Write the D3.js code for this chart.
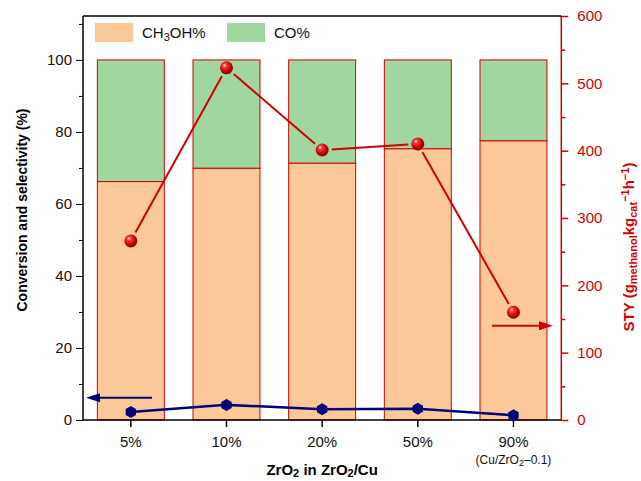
<!DOCTYPE html>
<html>
<head>
<meta charset="utf-8">
<script src="https://cdn.jsdelivr.net/npm/d3@7"></script>
<style>
  body { margin: 0; background: #fff; }
  text { font-family: "Liberation Sans", Arial, sans-serif; }
</style>
</head>
<body>
<div id="chart"></div>
<script>
// ---------------- DATA ----------------
const categories = ["5%", "10%", "20%", "50%", "90%"];
const methanolSel = [66.2, 69.9, 71.3, 75.3, 77.5];   // CH3OH% (left axis)
const totalSel = [100, 100, 100, 100, 100];           // CH3OH% + CO%
const conversion = [2.2, 4.2, 3.0, 3.1, 1.3];         // conversion % (left axis)
const sty = [266, 523, 401, 410, 160];                // STY (right axis)
const leftTicks = [0, 20, 40, 60, 80, 100];
const rightTicks = [0, 100, 200, 300, 400, 500, 600];

// ---------------- SVG ----------------
const W = 641, H = 481;
const margin = { top: 16, right: 80, bottom: 61, left: 83 };
const x0 = margin.left, x1 = W - margin.right + 0.3;
const yTop = margin.top, yBot = H - margin.bottom;

const svg = d3.select("#chart").append("svg")
  .attr("width", W).attr("height", H);

const defs = svg.append("defs");
const grad = defs.append("radialGradient").attr("id", "ball")
  .attr("cx", "40%").attr("cy", "38%").attr("r", "60%")
  .attr("fx", "35%").attr("fy", "30%");
grad.append("stop").attr("offset", "0%").attr("stop-color", "#ffe6e6");
grad.append("stop").attr("offset", "25%").attr("stop-color", "#f04040");
grad.append("stop").attr("offset", "70%").attr("stop-color", "#cc0000");
grad.append("stop").attr("offset", "100%").attr("stop-color", "#8a0000");

// ---------------- SCALES ----------------
const x = d3.scaleBand().domain(categories).range([x0, x1])
  .paddingInner(0.3).paddingOuter(0.15);
const yL = d3.scaleLinear().domain([0, 112.2]).range([yBot, yTop]);
const yR = d3.scaleLinear().domain([0, 600]).range([yBot, yTop]);

// ---------------- BARS ----------------
const red = "#d40000";
const bars = svg.append("g");
categories.forEach(function(c, i) {
  bars.append("rect")
    .attr("x", x(c)).attr("width", x.bandwidth())
    .attr("y", yL(totalSel[i])).attr("height", yL(methanolSel[i]) - yL(totalSel[i]))
    .attr("fill", "#9fd79f").attr("stroke", red).attr("stroke-width", 1);
  bars.append("rect")
    .attr("x", x(c)).attr("width", x.bandwidth())
    .attr("y", yL(methanolSel[i])).attr("height", yL(0) - yL(methanolSel[i]))
    .attr("fill", "#fbc999").attr("stroke", red).attr("stroke-width", 1);
});

// ---------------- AXES ----------------
// left axis
const gL = svg.append("g").attr("transform", "translate(" + x0 + ",0)")
  .call(d3.axisLeft(yL).tickValues(leftTicks).tickSize(7).tickPadding(4));
gL.select(".domain").remove();
gL.selectAll("text").style("font-size", "15px").attr("fill", "#111");
svg.append("g").attr("transform", "translate(" + x0 + ",0)")
  .call(d3.axisLeft(yL).tickValues(d3.range(10, 112, 20)).tickSize(4).tickFormat(""))
  .select(".domain").remove();
svg.append("line").attr("x1", x0).attr("x2", x0).attr("y1", yTop).attr("y2", yBot)
  .attr("stroke", "#000").attr("stroke-width", 1.5);

// right axis
const gR = svg.append("g").attr("transform", "translate(" + x1 + ",0)")
  .call(d3.axisRight(yR).tickValues(rightTicks).tickSize(7).tickPadding(9));
gR.select(".domain").remove();
gR.selectAll("line").attr("stroke", red).attr("stroke-width", 1.5);
gR.selectAll("text").style("font-size", "15px").attr("fill", red);
const gR2 = svg.append("g").attr("transform", "translate(" + x1 + ",0)")
  .call(d3.axisRight(yR).tickValues(d3.range(50, 600, 100)).tickSize(4).tickFormat(""));
gR2.select(".domain").remove();
gR2.selectAll("line").attr("stroke", red).attr("stroke-width", 1.5);
svg.append("line").attr("x1", x1).attr("x2", x1).attr("y1", yTop).attr("y2", yBot)
  .attr("stroke", red).attr("stroke-width", 1.5);

// top spine
svg.append("line").attr("x1", x0).attr("x2", x1).attr("y1", yTop).attr("y2", yTop)
  .attr("stroke", "#000").attr("stroke-width", 1.5);

// bottom axis
const gB = svg.append("g").attr("transform", "translate(0," + yBot + ")")
  .call(d3.axisBottom(x).tickSize(7).tickPadding(9));
gB.select(".domain").remove();
gB.selectAll("line").attr("stroke-width", 1.5);
gB.selectAll("text").style("font-size", "15px").attr("fill", "#111");
svg.append("line").attr("x1", x0).attr("x2", x1).attr("y1", yBot).attr("y2", yBot)
  .attr("stroke", "#000").attr("stroke-width", 1.5);

const sub90 = svg.append("text")
  .attr("x", x("90%") + x.bandwidth() / 2).attr("y", 464)
  .attr("text-anchor", "middle").style("font-size", "12px").attr("fill", "#111");
sub90.append("tspan").text("(Cu/ZrO");
sub90.append("tspan").attr("baseline-shift", "-25%").style("font-size", "9px").text("2");
sub90.append("tspan").text("\u20130.1)");

// axis titles
const xt = svg.append("text").attr("x", (x0 + x1) / 2).attr("y", 475)
  .attr("text-anchor", "middle").style("font-size", "15px").style("font-weight", "bold");
xt.append("tspan").text("ZrO");
xt.append("tspan").attr("baseline-shift", "-20%").style("font-size", "11px").text("2");
xt.append("tspan").text(" in ZrO");
xt.append("tspan").attr("baseline-shift", "-20%").style("font-size", "11px").text("2");
xt.append("tspan").text("/Cu");

svg.append("text").attr("transform", "translate(27," + ((yTop + yBot) / 2 - 8) + ") rotate(-90)")
  .attr("text-anchor", "middle").style("font-size", "14px").style("font-weight", "bold")
  .text("Conversion and selectivity (%)");

const yt = svg.append("text").attr("transform", "translate(634,247) rotate(-90)")
  .attr("text-anchor", "middle").style("font-size", "15px").style("font-weight", "bold")
  .attr("fill", red);
yt.append("tspan").text("STY (g");
yt.append("tspan").attr("baseline-shift", "-30%").style("font-size", "11px").text("methanol");
yt.append("tspan").text("kg");
yt.append("tspan").attr("baseline-shift", "-30%").style("font-size", "11px").text("cat");
yt.append("tspan").attr("baseline-shift", "45%").style("font-size", "11px").text("\u22121");
yt.append("tspan").text("h");
yt.append("tspan").attr("baseline-shift", "45%").style("font-size", "11px").text("\u22121");
yt.append("tspan").text(")");

// ---------------- LEGEND ----------------
const legend = [["CH", "3", "OH%", "#fbc999"], ["CO%", "", "", "#9fd79f"]];
const legX = [95, 227];
legend.forEach(function(d, i) {
  svg.append("rect").attr("x", legX[i]).attr("y", 23).attr("width", 38).attr("height", 19)
    .attr("fill", d[3]);
  const t = svg.append("text").attr("x", legX[i] + 47).attr("y", 38)
    .style("font-size", "15px").attr("fill", "#111");
  t.append("tspan").text(d[0]);
  if (d[1]) {
    t.append("tspan").attr("baseline-shift", "-30%").style("font-size", "11px").text(d[1]);
    t.append("tspan").text(d[2]);
  }
});

// ---------------- CONVERSION (blue) ----------------
const cx = function(i) { return x(categories[i]) + x.bandwidth() / 2; };
const navy = "#00007a";
svg.append("path")
  .datum(conversion)
  .attr("d", d3.line().x(function(d, i) { return cx(i); }).y(function(d) { return yL(d); }))
  .attr("fill", "none").attr("stroke", navy).attr("stroke-width", 2.5);
const hex = function(r) {
  const pts = d3.range(6).map(function(k) {
    const a = Math.PI / 6 + k * Math.PI / 3;
    return [r * Math.cos(a), r * Math.sin(a)];
  });
  return "M" + pts.join("L") + "Z";
};
svg.selectAll(".conv").data(conversion).enter().append("path")
  .attr("class", "conv")
  .attr("transform", function(d, i) { return "translate(" + cx(i) + "," + yL(d) + ")"; })
  .attr("d", hex(6)).attr("fill", navy);

// ---------------- STY (red) ----------------
const r = 6.5;
for (let i = 0; i < sty.length - 1; i++) {
  const ax = cx(i), ay = yR(sty[i]), bx = cx(i + 1), by = yR(sty[i + 1]);
  const len = Math.hypot(bx - ax, by - ay), ux = (bx - ax) / len, uy = (by - ay) / len;
  const g = r + 3;
  svg.append("line")
    .attr("x1", ax + ux * g).attr("y1", ay + uy * g)
    .attr("x2", bx - ux * g).attr("y2", by - uy * g)
    .attr("stroke", red).attr("stroke-width", 2);
}
svg.selectAll(".sty").data(sty).enter().append("circle")
  .attr("class", "sty")
  .attr("cx", function(d, i) { return cx(i); }).attr("cy", function(d) { return yR(d); })
  .attr("r", r).attr("fill", "url(#ball)");

// ---------------- ARROWS ----------------
function arrow(xa, xb, yy, col) {
  const dir = xb > xa ? 1 : -1;
  svg.append("line").attr("x1", xa).attr("x2", xb - dir * 8).attr("y1", yy).attr("y2", yy)
    .attr("stroke", col).attr("stroke-width", 2);
  svg.append("path")
    .attr("d", "M" + xb + "," + yy + "L" + (xb - dir * 14) + "," + (yy - 4.5) +
      "L" + (xb - dir * 14) + "," + (yy + 4.5) + "Z")
    .attr("fill", col);
}
arrow(152, 86, yL(6.2), navy);
arrow(492, 553, yR(140), red);
</script>
</body>
</html>
